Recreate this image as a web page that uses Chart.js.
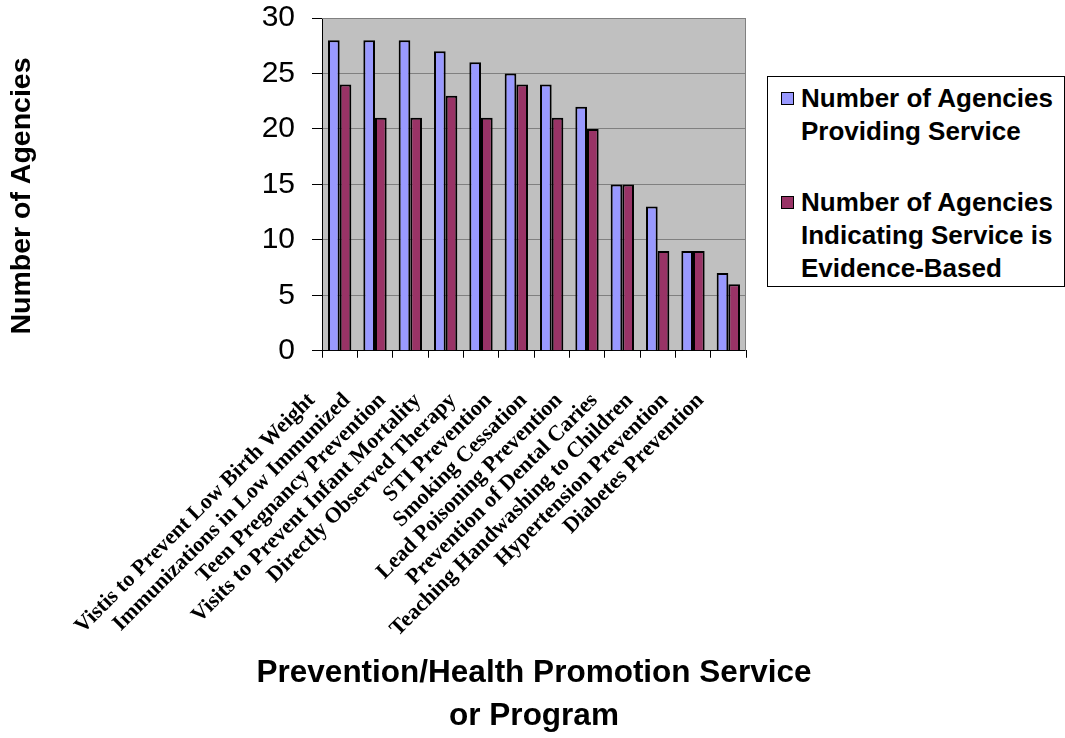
<!DOCTYPE html>
<html>
<head>
<meta charset="utf-8">
<title>Prevention / Health Promotion Services</title>
<script src="https://cdn.jsdelivr.net/npm/chart.js@4.4.0/dist/chart.umd.min.js"></script>
<style>
  html, body { margin: 0; padding: 0; background: #fff; }
  #wrap { position: relative; width: 1065px; height: 738px; }
  #legend {
    position: absolute; left: 767px; top: 76px; width: 298px; height: 211px;
    box-sizing: border-box; border: 1px solid #000; background: #fff;
    font: bold 26px "Liberation Sans", Arial, sans-serif; color: #000;
  }
  .item { position: absolute; left: 33px; line-height: 33px; white-space: nowrap; }
  .swatch {
    position: absolute; left: 13px; width: 11px; height: 11px;
    border: 1px solid #000;
  }
</style>
</head>
<body>
<div id="wrap">
  <canvas id="chart" width="1065" height="738"></canvas>
  <div id="legend"></div>
</div>
<script>
// categories along the x axis
var categories = [
  "Vistis to Prevent Low Birth Weight",
  "Immunizations in Low Immunized",
  "Teen Pregnancy Prevention",
  "Visits to Prevent Infant Mortality",
  "Directly Observed Therapy",
  "STI Prevention",
  "Smoking Cessation",
  "Lead Poisoning Prevention",
  "Prevention of Dental Caries",
  "Teaching Handwashing to Children",
  "Hypertension Prevention",
  "Diabetes Prevention"
];

// series values
var providing = [28, 28, 28, 27, 26, 25, 24, 22, 15, 13, 9, 7];
var evidenceBased = [24, 21, 21, 23, 21, 24, 21, 20, 15, 9, 9, 6];

// legend text, one entry per line
var providingName = ["Number of Agencies", "Providing Service"];
var evidenceName = ["Number of Agencies", "Indicating Service is", "Evidence-Based"];

// y axis tick values
var yTicks = [0, 5, 10, 15, 20, 25, 30];

// axis titles
var xTitle = ["Prevention/Health Promotion Service", "or Program"];
var yTitle = "Number of Agencies";

var sans = '"Liberation Sans", Arial, sans-serif';
var serif = '"Liberation Serif", "Times New Roman", serif';

// grey plot area like the old spreadsheet charts
var plotBg = {
  id: "plotBg",
  beforeDraw: function (chart) {
    var ctx = chart.ctx, a = chart.chartArea;
    ctx.save();
    ctx.fillStyle = "#C0C0C0";
    ctx.fillRect(a.left, a.top, a.right - a.left, a.bottom - a.top);
    ctx.restore();
  },
  beforeDatasetsDraw: function (chart) {
    var ctx = chart.ctx, a = chart.chartArea;
    ctx.save();
    ctx.strokeStyle = "#808080";
    ctx.lineWidth = 1;
    ctx.beginPath();
    ctx.moveTo(a.left, a.top + 0.5);
    ctx.lineTo(a.right - 0.5, a.top + 0.5);
    ctx.lineTo(a.right - 0.5, a.bottom);
    ctx.stroke();
    ctx.restore();
  },
  // scale titles get squeezed/centred by Chart.js, so place them here
  afterDraw: function (chart) {
    var ctx = chart.ctx, a = chart.chartArea;
    var cx = (a.left + a.right) / 2;
    ctx.save();
    ctx.fillStyle = "#000";
    ctx.textAlign = "center";
    ctx.textBaseline = "alphabetic";
    ctx.font = "bold 31.5px " + sans;
    ctx.fillText(xTitle[0], cx, 682);
    ctx.fillText(xTitle[1], cx, 725);

    ctx.translate(22, 196);
    ctx.rotate(-Math.PI / 2);
    ctx.textBaseline = "middle";
    ctx.font = "bold 28.5px " + sans;
    ctx.fillText(yTitle, 0, 0);
    ctx.restore();
  }
};

var data = {
  labels: categories,
  datasets: [
    {
      label: providingName.join(" "),
      data: providing,
      backgroundColor: "#9999FF",
      borderColor: "#000000",
      borderWidth: 2
    },
    {
      label: evidenceName.join(" "),
      data: evidenceBased,
      backgroundColor: "#993366",
      borderColor: "#000000",
      borderWidth: 2
    }
  ]
};

var options = {
  responsive: false,
  animation: false,
  devicePixelRatio: 1,
  layout: { padding: { left: 0, top: 18, right: 319, bottom: 66 } },
  datasets: { bar: { categoryPercentage: 0.66, barPercentage: 1.0 } },
  plugins: {
    legend: { display: false },
    tooltip: { enabled: false }
  },
  scales: {
    x: {
      grid: { drawOnChartArea: false, drawTicks: true, tickLength: 7, tickColor: "#000", offset: true },
      border: { color: "#000", width: 1 },
      ticks: {
        autoSkip: false, minRotation: 45, maxRotation: 45,
        labelOffset: -28, padding: 30, color: "#000",
        font: { family: serif, weight: "bold", size: 22 }
      }
    },
    y: {
      min: 0, max: 30,
      afterBuildTicks: function (scale) {
        scale.ticks = yTicks.map(function (v) { return { value: v }; });
      },
      afterFit: function (scale) {
        scale.width = 322;
        scale.paddingTop = 0;
        scale.paddingBottom = 0;
      },
      grid: { color: "#808080", tickColor: "#000", tickLength: 10 },
      border: { color: "#000", width: 1 },
      ticks: { padding: 17, color: "#000", font: { family: sans, size: 30 } }
    }
  }
};

var chart = new Chart(document.getElementById("chart"), {
  type: "bar",
  data: data,
  options: options,
  plugins: [plotBg]
});

// legend box on the right, built from the same series
var legend = document.getElementById("legend");
var entries = [
  { lines: providingName, color: "#9999FF", top: 5 },
  { lines: evidenceName, color: "#993366", top: 109 }
];
entries.forEach(function (e) {
  var sw = document.createElement("div");
  sw.className = "swatch";
  sw.style.background = e.color;
  sw.style.top = (e.top + 10) + "px";
  legend.appendChild(sw);
  var it = document.createElement("div");
  it.className = "item";
  it.style.top = e.top + "px";
  it.innerHTML = e.lines.join("<br>");
  legend.appendChild(it);
});
</script>
</body>
</html>
